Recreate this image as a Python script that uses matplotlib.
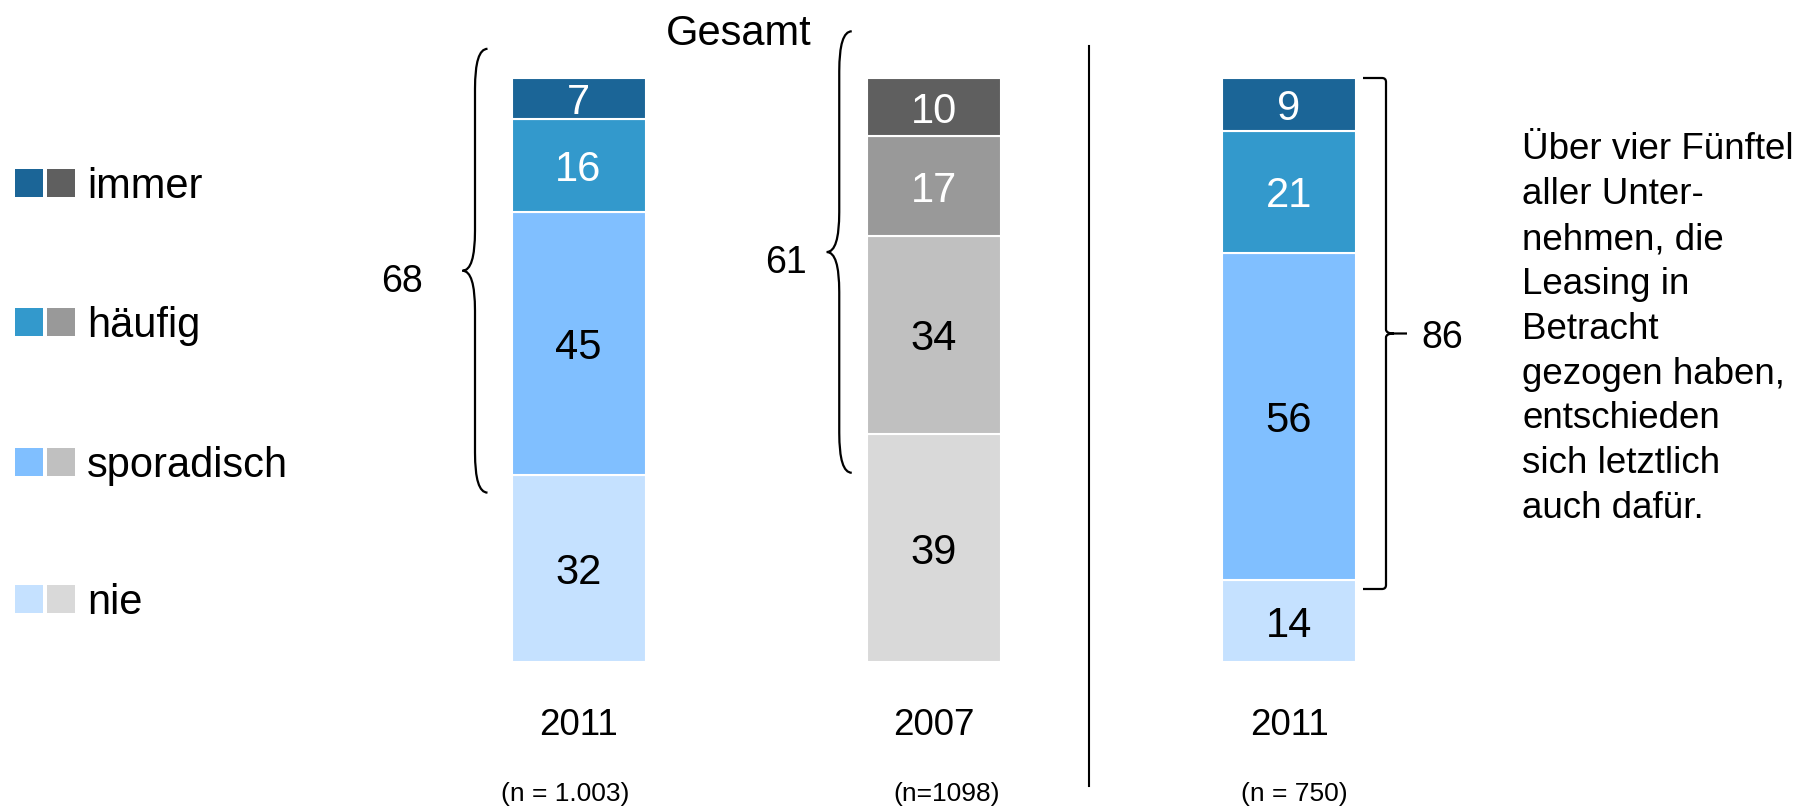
import matplotlib

matplotlib.use("Agg")
import matplotlib.pyplot as plt
import matplotlib.transforms as mtransforms
from matplotlib.patches import PathPatch, Rectangle
from matplotlib.path import Path
import numpy as np

plt.rcParams["font.family"] = ["Liberation Sans", "DejaVu Sans"]

################################################################################
## Data

years = ["2011", "2007", "2011"]
sample_sizes = ["(n = 1.003)", "(n=1098)", "(n = 750)"]
categories = ["immer", "häufig", "sporadisch", "nie"]

# one list per answer, one value per column
immer = [7, 10, 9]
haeufig = [16, 17, 21]
sporadisch = [45, 34, 56]
nie = [32, 39, 14]

header = "Gesamt"
note_lines = [
    "Über vier Fünftel",
    "aller Unter-",
    "nehmen, die",
    "Leasing in",
    "Betracht",
    "gezogen haben,",
    "entschieden",
    "sich letztlich",
    "auch dafür.",
]

blues = ["#1B6597", "#3399CC", "#80BFFF", "#C5E1FF"]
greys = ["#5F5F5F", "#999999", "#C0C0C0", "#D9D9D9"]
palettes = [blues, greys, blues]
text_colors = ["white", "white", "black", "black"]

################################################################################
## Layout (pixels of the 1800 x 807 output)

W, H = 1800, 807
BAR_TOP, BAR_BOTTOM = 78, 662
X0, DX = 578.5, 355.25  # centre of first bar, distance between bars
BAR_W = 134 / DX
PX_Y = (BAR_BOTTOM - BAR_TOP) / 100  # pixels per percent
n_shift = [-13, 13, 5]  # the sample size labels are not quite centred


def curly_brace(ax, x_tip, x_end, y_bot, y_top, ry, lw=1.6):
    x_mid = (x_tip + x_end) / 2
    y_c = (y_bot + y_top) / 2
    verts = [
        (x_end, y_top),
        (x_mid, y_top),
        (x_mid, y_top - ry),
        (x_mid, y_c + ry),
        (x_mid, y_c),
        (x_tip, y_c),
        (x_mid, y_c),
        (x_mid, y_c - ry),
        (x_mid, y_bot + ry),
        (x_mid, y_bot),
        (x_end, y_bot),
    ]
    C, L = Path.CURVE3, Path.LINETO
    codes = [Path.MOVETO, C, C, L, C, C, C, C, L, C, C]
    ax.add_patch(
        PathPatch(Path(verts, codes), fc="none", ec="black", lw=lw, clip_on=False)
    )
    return y_c


def square_brace(ax, x_end, x_mid, x_tip, y_bot, y_top, cx, ry, lw=1.6):
    y_c = (y_bot + y_top) / 2
    verts = [
        (x_end, y_top),
        (x_mid - cx, y_top),
        (x_mid, y_top),
        (x_mid, y_top - ry),
        (x_mid, y_c + ry),
        (x_mid, y_c),
        (x_mid + 2 * cx, y_c),
        (x_tip, y_c),
        (x_mid + 2 * cx, y_c),
        (x_mid, y_c),
        (x_mid, y_c - ry),
        (x_mid, y_bot + ry),
        (x_mid, y_bot),
        (x_mid - cx, y_bot),
        (x_end, y_bot),
    ]
    C, L, M = Path.CURVE3, Path.LINETO, Path.MOVETO
    codes = [M, L, C, C, L, C, C, L, M, C, C, L, C, C, L]
    ax.add_patch(
        PathPatch(Path(verts, codes), fc="none", ec="black", lw=lw, clip_on=False)
    )
    return y_c


################################################################################
## Plot

fig = plt.figure(figsize=(W / 100, H / 100), dpi=100)

# overlay in pixel units for the legend and free text
ov = fig.add_axes([0, 0, 1, 1])
ov.set_xlim(0, W)
ov.set_ylim(H, 0)
ov.axis("off")

ax = fig.add_axes(
    [0, (H - BAR_BOTTOM) / H, 1, (BAR_BOTTOM - BAR_TOP) / H],
)
ax.set_xlim(-X0 / DX, (W - X0) / DX)
ax.set_ylim(0, 100)
ax.axis("off")

x = np.arange(len(years))
series = [immer, haeufig, sporadisch, nie]  # top to bottom
bottom = np.zeros(len(years))
for k in range(len(series) - 1, -1, -1):
    vals = np.array(series[k])
    cols = [p[k] for p in palettes]
    ax.bar(
        x,
        vals,
        bottom=bottom,
        width=BAR_W,
        color=cols,
        edgecolor="white",
        linewidth=1.5,
    )
    for xi, b, v in zip(x, bottom, vals):
        ax.text(
            xi,
            b + v / 2,
            str(v),
            ha="center",
            va="center_baseline",
            fontsize=30,
            color=text_colors[k],
        )
    bottom += vals

# braces around "at least sporadic" for the two overall columns
px_x = 1 / DX
for i, (pad_top, pad_bot, gap, lab_gap) in enumerate([(5, 3, 24, 40), (8, 6.6, 15, 20)]):
    total = immer[i] + haeufig[i] + sporadisch[i]
    lo = nie[i] - pad_bot
    hi = nie[i] + total + pad_top
    x_end = x[i] - BAR_W / 2 - gap * px_x
    x_tip = x_end - 25 * px_x
    y_c = curly_brace(ax, x_tip, x_end, lo, hi, ry=40 / PX_Y)
    ax.text(
        x_tip - lab_gap * px_x,
        y_c - 1.2,
        str(total),
        ha="right",
        va="center_baseline",
        fontsize=27,
    )

# bracket on the right column
total = immer[2] + haeufig[2] + sporadisch[2]
lo = nie[2] - 1.5
hi = nie[2] + total
x_end = x[2] + BAR_W / 2 + 7 * px_x
y_c = square_brace(
    ax,
    x_end,
    x_end + 23 * px_x,
    x_end + 44 * px_x,
    lo,
    hi,
    cx=4 * px_x,
    ry=4 / PX_Y,
)
ax.text(
    x_end + 58 * px_x,
    y_c,
    str(total),
    ha="left",
    va="center_baseline",
    fontsize=27,
)

# separator between 2007 and the right column
ax.axvline(
    1.4375,
    ymin=(BAR_BOTTOM - 786) / (BAR_BOTTOM - BAR_TOP),
    ymax=(BAR_BOTTOM - 46) / (BAR_BOTTOM - BAR_TOP),
    color="black",
    lw=1.5,
    clip_on=False,
)

# column labels
trans = mtransforms.blended_transform_factory(ax.transData, fig.transFigure)
for xi, yr, n, s in zip(x, years, sample_sizes, n_shift):
    ax.text(xi, 1 - 735 / H, yr, transform=trans, ha="center", va="baseline", fontsize=26.5)
    ax.text(
        xi + s * px_x,
        1 - 801 / H,
        n,
        transform=trans,
        ha="center",
        va="baseline",
        fontsize=19,
    )

ov.text(739, 45, header, ha="center", va="baseline", fontsize=30)

# legend: blue and grey swatch per answer
rows = [183, 322, 462, 599]
for lab, yc, b, g in zip(categories, rows, blues, greys):
    ov.add_patch(Rectangle((15, yc - 14), 28, 28, color=b, lw=0))
    ov.add_patch(Rectangle((47, yc - 14), 28, 28, color=g, lw=0))
    ov.text(87, yc + 15, lab, ha="left", va="baseline", fontsize=30)

# note on the right
for j, line in enumerate(note_lines):
    ov.text(1522, 159.3 + j * 44.86, line, ha="left", va="baseline", fontsize=26.5)

fig.savefig("out.png", dpi=100)
